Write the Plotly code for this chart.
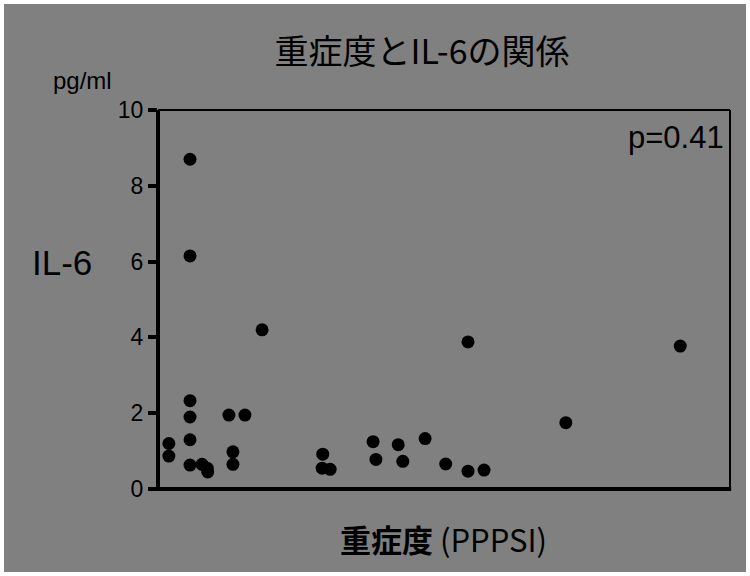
import plotly.graph_objects as go

# Severity (unlabelled x scale, 0-100) and IL-6 (pg/ml)
severity = [5.6, 5.6, 18.2, 5.6, 5.6, 12.4, 15.2, 1.9, 1.9, 5.6,
            5.6, 7.7, 8.6, 8.7, 13.1, 13.1,
            54.2, 91.3, 71.3, 28.8, 28.7, 30.1, 37.6, 38.1, 42.0, 42.8,
            46.7, 50.3, 54.2, 57.0]
il6 = [8.7, 6.15, 4.2, 2.33, 1.9, 1.95, 1.95, 1.2, 0.87, 1.3,
       0.63, 0.65, 0.55, 0.45, 0.98, 0.65,
       3.88, 3.77, 1.75, 0.92, 0.55, 0.52, 1.25, 0.78, 1.17, 0.73,
       1.33, 0.66, 0.47, 0.5]
y_ticks = [0, 2, 4, 6, 8, 10]

title_text = "重症度とIL-6の関係"
x_label = "<b>重症度</b> (PPPSI)"
y_label = "IL-6"
y_unit = "pg/ml"
p_text = "p=0.41"

GRAY = "#808080"
W, H = 750, 576
L, R, T, B = 158, 20, 110, 87
PW, PH = W - L - R, H - T - B


def px(x):
    return (x - L) / PW


def py(y):
    return (H - B - y) / PH


fig = go.Figure()
fig.add_trace(go.Scatter(
    x=severity, y=il6, mode="markers",
    marker=dict(color="black", size=13, line=dict(width=0)),
    hoverinfo="x+y", showlegend=False,
))

num_font = "Liberation Sans, Arial, sans-serif"
jp_font = "Noto Sans CJK JP, sans-serif"

fig.update_layout(
    width=W, height=H,
    margin=dict(l=L, r=R, t=T, b=B),
    paper_bgcolor="white",
    plot_bgcolor=GRAY,
    title=dict(text=title_text, x=422 / W, y=1 - 52 / H,
               xanchor="center", yanchor="middle",
               font=dict(family=jp_font, size=34, color="black")),
    xaxis=dict(range=[0, 100], showticklabels=False, ticks="",
               showgrid=False, zeroline=False, showline=False,
               fixedrange=True),
    yaxis=dict(range=[0, 10], tickvals=y_ticks, ticks="outside",
               ticklen=9, tickwidth=4, tickcolor="black",
               showgrid=False, zeroline=False, showline=False,
               tickfont=dict(family=num_font, size=23, color="black"),
               fixedrange=True),
    shapes=[
        # gray panel with white border
        dict(type="rect", xref="paper", yref="paper", layer="below",
             x0=px(4), x1=px(746), y0=py(572), y1=py(4),
             fillcolor=GRAY, line=dict(width=0)),
        # thin top and right frame
        dict(type="line", xref="paper", yref="paper",
             x0=0, x1=1, y0=1, y1=1, line=dict(color="black", width=2)),
        dict(type="line", xref="paper", yref="paper",
             x0=1, x1=1, y0=0, y1=1, line=dict(color="black", width=2)),
        # thick left and bottom axes
        dict(type="line", xref="paper", yref="paper",
             x0=0, x1=0, y0=0, y1=1, line=dict(color="black", width=4)),
        dict(type="line", xref="paper", yref="paper",
             x0=px(149), x1=1.002, y0=0, y1=0, line=dict(color="black", width=4)),
    ],
    annotations=[
        dict(text=y_unit, xref="paper", yref="paper", x=px(82), y=py(80),
             showarrow=False, xanchor="center", yanchor="middle",
             font=dict(family=num_font, size=24, color="black")),
        dict(text=y_label, xref="paper", yref="paper", x=px(62), y=py(262),
             showarrow=False, xanchor="center", yanchor="middle",
             font=dict(family=num_font, size=35, color="black")),
        dict(text=p_text, xref="paper", yref="paper", x=px(726), y=py(137),
             showarrow=False, xanchor="right", yanchor="middle",
             font=dict(family=num_font, size=31, color="black")),
        dict(text=x_label, xref="paper", yref="paper", x=px(443), y=py(538),
             showarrow=False, xanchor="center", yanchor="middle",
             font=dict(family=jp_font, size=31, color="black")),
    ],
)

fig.write_html("out.html",
               config={"displayModeBar": False},
               post_script="document.body.style.margin='0';")
